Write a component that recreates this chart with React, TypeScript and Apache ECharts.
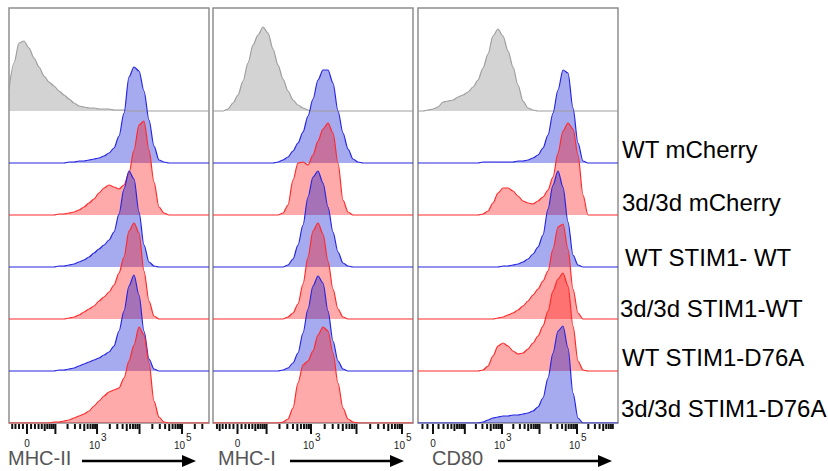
import { useEffect, useRef } from 'react';
import * as echarts from 'echarts';

// ---------- data ----------
const markers = ['MHC-II', 'MHC-I', 'CD80'];
const sampleLabels = ['WT mCherry', '3d/3d mCherry', 'WT STIM1- WT', '3d/3d STIM1-WT', 'WT STIM1-D76A', '3d/3d STIM1-D76A'];
// display channel index (41 channels across each histogram panel)
const channels = [0,1,2,3,4,5,6,7,8,9,10,11,12,13,14,15,16,17,18,19,20,21,22,23,24,25,26,27,28,29,30,31,32,33,34,35,36,37,38,39,40];

// MHC-II (% of mode)
const mhc2Unstained = [22,48,68,70,63,53,44,35,29,25,20,16,12,8,5,4,3,3,2,2,2,1,1,1,0,0,0,0,0,0,0,0,0,0,0,0,0,0,0,0,0];
const mhc2WtMcherry = [0,0,0,0,0,0,0,0,0,0,0,0,1,1,2,2,3,4,5,7,10,15,27,50,86,96,92,72,43,17,3,1,0,0,0,0,0,0,0,0,0];
const mhc2KiMcherry = [0,0,0,0,0,0,0,0,0,0,1,1,2,3,5,8,12,16,22,27,30,28,26,30,42,65,90,94,65,33,8,2,0,0,0,0,0,0,0,0,0];
const mhc2WtStimWt = [0,0,0,0,0,0,0,0,0,0,1,1,2,3,5,7,10,14,18,22,27,35,53,78,96,88,55,22,5,1,0,0,0,0,0,0,0,0,0,0,0];
const mhc2KiStimWt = [0,0,0,0,0,0,0,0,0,0,0,0,1,2,4,7,10,13,18,22,27,34,46,62,88,96,86,48,18,3,0,0,0,0,0,0,0,0,0,0,0];
const mhc2WtD76A = [0,0,0,0,0,0,0,0,0,0,1,1,2,3,5,7,9,11,13,16,19,25,40,60,85,96,76,40,12,2,0,0,0,0,0,0,0,0,0,0,0];
const mhc2KiD76A = [0,0,0,0,0,0,0,0,0,1,1,2,3,5,7,9,12,17,22,27,31,33,35,45,62,78,96,88,60,22,6,1,0,0,0,0,0,0,0,0,0];

// MHC-I
const mhc1Unstained = [0,0,0,2,8,16,30,48,66,76,84,78,62,46,32,20,11,6,3,1,0,0,0,0,0,0,0,0,0,0,0,0,0,0,0,0,0,0,0,0,0];
const mhc1WtMcherry = [0,0,0,0,0,0,0,0,0,0,0,0,0,1,3,6,12,20,31,47,64,83,93,93,80,52,30,14,4,1,0,0,0,0,0,0,0,0,0,0,0];
const mhc1KiMcherry = [0,0,0,0,0,0,0,0,0,0,0,0,0,0,2,10,35,52,53,50,60,74,86,92,82,52,15,3,0,0,0,0,0,0,0,0,0,0,0,0,0];
const mhc1WtStimWt = [0,0,0,0,0,0,0,0,0,0,0,0,0,0,0,2,8,22,42,70,90,96,84,60,35,15,4,1,0,0,0,0,0,0,0,0,0,0,0,0,0];
const mhc1KiStimWt = [0,0,0,0,0,0,0,0,0,0,0,0,0,0,0,2,6,15,35,62,88,96,85,58,30,10,2,0,0,0,0,0,0,0,0,0,0,0,0,0,0];
const mhc1WtD76A = [0,0,0,0,0,0,0,0,0,0,0,0,0,0,1,3,8,18,38,62,85,95,88,60,30,10,2,0,0,0,0,0,0,0,0,0,0,0,0,0,0];
const mhc1KiD76A = [0,0,0,0,0,0,0,0,0,0,0,0,0,0,1,4,15,40,58,62,72,88,96,92,70,40,15,4,1,0,0,0,0,0,0,0,0,0,0,0,0];

// CD80
const cd80Unstained = [0,0,1,2,4,9,10,11,14,16,19,24,31,43,57,75,82,75,60,44,26,10,3,1,0,0,0,0,0,0,0,0,0,0,0,0,0,0,0,0,0];
const cd80WtMcherry = [0,0,0,0,0,0,0,0,0,0,0,0,0,1,1,1,1,1,1,1,2,2,3,5,8,15,28,50,73,93,90,55,20,2,0,0,0,0,0,0,0];
const cd80KiMcherry = [0,0,0,0,0,0,0,0,0,0,0,0,0,1,4,12,22,27,27,24,19,14,12,11,14,18,25,38,62,84,92,86,60,20,0,0,0,0,0,0,0];
const cd80WtStimWt = [0,0,0,0,0,0,0,0,0,0,0,0,0,0,0,0,0,1,1,2,3,5,8,13,20,32,58,82,96,80,45,12,2,0,0,0,0,0,0,0,0];
const cd80KiStimWt = [0,0,0,0,0,0,0,0,0,0,0,0,0,0,0,0,1,2,4,6,9,13,18,24,30,38,48,70,92,95,70,30,6,0,0,0,0,0,0,0,0];
const cd80WtD76A = [0,0,0,0,0,0,0,0,0,0,0,0,0,1,5,15,25,28,25,20,17,18,22,28,35,45,60,80,92,98,85,45,10,1,0,0,0,0,0,0,0];
const cd80KiD76A = [0,0,0,0,0,0,0,0,0,0,0,0,0,1,3,5,6,7,7,8,8,9,10,12,16,25,45,70,92,97,75,30,5,0,0,0,0,0,0,0,0];

const panelRows = [
  [mhc2Unstained, mhc2WtMcherry, mhc2KiMcherry, mhc2WtStimWt, mhc2KiStimWt, mhc2WtD76A, mhc2KiD76A],
  [mhc1Unstained, mhc1WtMcherry, mhc1KiMcherry, mhc1WtStimWt, mhc1KiStimWt, mhc1WtD76A, mhc1KiD76A],
  [cd80Unstained, cd80WtMcherry, cd80KiMcherry, cd80WtStimWt, cd80KiStimWt, cd80WtD76A, cd80KiD76A],
];
const panelColors = [
  ['gray', 'blue', 'red', 'blue', 'red', 'blue', 'red'],
  ['gray', 'blue', 'red', 'blue', 'red', 'blue', 'red'],
  ['gray', 'blue', 'red', 'blue', 'red', 'red', 'blue'],
];

// biexponential-like display scale per panel
const axisZeroPx = [18, 24.5, 15];
const axisPxPerDecade = [42.5, 45.5, 37.5];
const axisLinearWidth = [45, 48.5, 28.9];
const tickMultipliers = [1, 2, 3, 4, 5, 6, 7, 8, 9];
const tickDecades = [10, 100, 1000, 10000, 100000];
const labelValues = [0, 1000, 100000];
const labelBase = ['0', '10', '10'];
const labelSup = ['', '3', '5'];

// ---------- layout ----------
const GRID_LEFT = [9, 213, 418];
const GRID_TOP = 8;
const GRID_W = 200;
const GRID_H = 415;
const ROW_STEP = 52;
const CH_PX = 5;

const palette: Record<string, { line: string; fill: string }> = {
  gray: { line: '#9e9e9e', fill: 'rgba(150,150,150,0.42)' },
  blue: { line: '#2626e0', fill: 'rgba(0,12,210,0.35)' },
  red: { line: '#ff2b2b', fill: 'rgba(255,12,12,0.35)' },
};

function toChannel(p: number, v: number) {
  const px = axisZeroPx[p] + (axisPxPerDecade[p] / Math.LN10) * Math.asinh(v / axisLinearWidth[p]);
  return px / CH_PX;
}

export default function App() {
  const ref = useRef<HTMLDivElement>(null);
  useEffect(() => {
    document.body.style.margin = '0';
    const chart = echarts.init(ref.current!, null, { renderer: 'svg' });

    const grid: any[] = [];
    const xAxis: any[] = [];
    const yAxis: any[] = [];
    const series: any[] = [];
    const graphic: any[] = [];

    for (let p = 0; p < 3; p++) {
      grid.push({
        left: GRID_LEFT[p], top: GRID_TOP, width: GRID_W, height: GRID_H,
        show: true, borderColor: '#8e8e8e', borderWidth: 1.5, backgroundColor: 'transparent',
      });
      xAxis.push({ type: 'value', gridIndex: p, min: 0, max: channels.length - 1, show: false });
      for (let r = 0; r < 7; r++) {
        const base = (6 - r) * ROW_STEP;
        yAxis.push({ type: 'value', gridIndex: p, min: -base, max: GRID_H - base, show: false });
        const col = palette[panelColors[p][r]];
        series.push({
          type: 'line',
          name: r === 0 ? 'Unstained' : sampleLabels[r - 1],
          xAxisIndex: p,
          yAxisIndex: p * 7 + r,
          data: channels.map((c, i) => [c, panelRows[p][r][i]]),
          showSymbol: false,
          smooth: 0.3,
          smoothMonotone: 'x',
          silent: true,
          lineStyle: { color: col.line, width: 1.2 },
          areaStyle: { color: col.fill, opacity: 1, origin: 'auto' },
          emphasis: { disabled: true },
        });
      }
      // ticks
      const ticks: number[][] = [];
      for (const d of tickDecades) {
        for (const m of tickMultipliers) {
          const v = d * m;
          const major = m === 1 && d >= 100;
          ticks.push([toChannel(p, v), major ? 10 : m === 5 ? 7 : 5]);
          if (d <= 10) ticks.push([toChannel(p, -v), m === 5 ? 7 : 5]);
        }
      }
      ticks.push([toChannel(p, 0), 10]);
      series.push({
        type: 'custom',
        xAxisIndex: p,
        yAxisIndex: p * 7 + 6,
        clip: false,
        silent: true,
        data: ticks.filter((t) => t[0] >= 0.6 && t[0] <= channels.length - 1.4),
        renderItem: (_params: any, api: any) => {
          const pt = api.coord([api.value(0), 0]);
          return {
            type: 'rect',
            shape: { x: pt[0] - 1, y: pt[1] + 1, width: 2, height: api.value(1) },
            style: { fill: '#111' },
          };
        },
      });
      series.push({
        type: 'custom',
        xAxisIndex: p,
        yAxisIndex: p * 7 + 6,
        clip: false,
        silent: true,
        data: labelValues.map((v, i) => [toChannel(p, v), i]),
        renderItem: (params: any, api: any) => {
          const i = params.dataIndex;
          const pt = api.coord([api.value(0), 0]);
          const font = { fontSize: 10, fontFamily: 'Liberation Sans, Arial, sans-serif', fill: '#222' };
          if (!labelSup[i]) {
            return { type: 'text', x: pt[0], y: pt[1] + 20, style: { ...font, text: labelBase[i], align: 'center', verticalAlign: 'middle' } };
          }
          return {
            type: 'group',
            children: [
              { type: 'text', x: pt[0] + 3, y: pt[1] + 22, style: { ...font, text: labelBase[i], align: 'right', verticalAlign: 'middle' } },
              { type: 'text', x: pt[0] + 4, y: pt[1] + 14, style: { ...font, text: labelSup[i], align: 'left', verticalAlign: 'middle' } },
            ],
          };
        },
      });
    }

    // axis titles with arrows
    const titleX = [8, 218, 432];
    const arrowStart = [82, 290, 498];
    const arrowEnd = [196, 404, 612];
    for (let p = 0; p < 3; p++) {
      graphic.push({
        type: 'text', left: titleX[p], top: 448,
        style: { text: markers[p], fontSize: 20, fontFamily: 'Liberation Sans, Arial, sans-serif', fill: '#555' },
      });
      graphic.push({
        type: 'line',
        shape: { x1: arrowStart[p], y1: 461, x2: arrowEnd[p] - 12, y2: 461 },
        style: { stroke: '#000', lineWidth: 2.6 },
      });
      graphic.push({
        type: 'polygon',
        shape: { points: [[arrowEnd[p] - 14, 455], [arrowEnd[p], 461], [arrowEnd[p] - 14, 467]] },
        style: { fill: '#000' },
      });
    }
    const labelX = [622, 622, 625, 620, 622, 621];
    const labelY = [149, 202, 257, 308, 357, 408];
    sampleLabels.forEach((s, i) => {
      graphic.push({
        type: 'text', x: labelX[i], y: labelY[i],
        style: { text: s, fontSize: 24, fontFamily: 'Liberation Sans, Arial, sans-serif', fill: '#000', verticalAlign: 'middle', align: 'left' },
      });
    });

    chart.setOption({
      animation: false,
      backgroundColor: '#fff',
      grid, xAxis, yAxis, series, graphic,
    });
    return () => chart.dispose();
  }, []);
  return <div ref={ref} style={{ width: 828, height: 471 }} />;
}
